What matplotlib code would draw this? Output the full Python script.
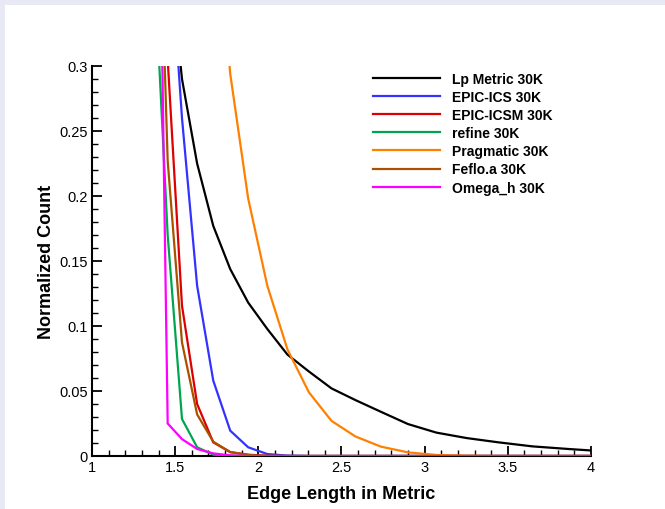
import matplotlib
matplotlib.use("Agg")
import matplotlib.pyplot as plt
from matplotlib.patches import Rectangle
from matplotlib.ticker import MultipleLocator, FormatStrFormatter

plt.rcParams['font.family'] = ['Liberation Sans', 'DejaVu Sans']

# bin centres (edge length in metric)
edge_len = [1.374, 1.455, 1.541, 1.632, 1.729, 1.831, 1.939, 2.054, 2.175, 2.304,
            2.440, 2.584, 2.737, 2.899, 3.070, 3.252, 3.444, 3.648, 3.863, 4.090]

lp_metric = [0.52, 0.40, 0.29, 0.225, 0.177, 0.1438, 0.118, 0.0977, 0.078, 0.065,
             0.052, 0.043, 0.034, 0.0246, 0.018, 0.0138, 0.0105, 0.0074, 0.0054, 0.0035]
epic_ics = [0.60, 0.42, 0.26, 0.131, 0.058, 0.0195, 0.0067, 0.0015, 0.0003, 0,
            0, 0, 0, 0, 0, 0, 0, 0, 0, 0]
epic_icsm = [0.75, 0.305, 0.1156, 0.040, 0.0105, 0.003, 0.001, 0.0002, 0, 0,
             0, 0, 0, 0, 0, 0, 0, 0, 0, 0]
refine = [0.38, 0.17, 0.0285, 0.0067, 0.001, 0.0002, 0, 0, 0, 0,
          0, 0, 0, 0, 0, 0, 0, 0, 0, 0]
pragmatic = [0.9, 0.7, 0.6, 0.5, 0.45, 0.294, 0.198, 0.131, 0.082, 0.049,
             0.027, 0.015, 0.0072, 0.0028, 0.0008, 0.0002, 0, 0, 0, 0]
feflo = [0.56, 0.227, 0.0874, 0.032, 0.011, 0.003, 0.0008, 0, 0, 0,
         0, 0, 0, 0, 0, 0, 0, 0, 0, 0]
omega_h = [0.72, 0.025, 0.013, 0.0054, 0.002, 0.0005, 0, 0, 0, 0,
           0, 0, 0, 0, 0, 0, 0, 0, 0, 0]

series = [
    ("Lp Metric 30K", lp_metric, "#000000"),
    ("EPIC-ICS 30K", epic_ics, "#3333ff"),
    ("EPIC-ICSM 30K", epic_icsm, "#dd0000"),
    ("refine 30K", refine, "#00a550"),
    ("Pragmatic 30K", pragmatic, "#ff8000"),
    ("Feflo.a 30K", feflo, "#a85200"),
    ("Omega_h 30K", omega_h, "#ff00ff"),
]

fig = plt.figure(figsize=(6.65, 5.1), dpi=100)
fig.patch.set_facecolor("white")
# lavender frame strips (top and left)
fig.patches.append(Rectangle((0, 1 - 6 / 510), 1, 6 / 510, transform=fig.transFigure,
                             facecolor="#e9e9f5", edgecolor="none", zorder=0))
fig.patches.append(Rectangle((0, 0), 4.5 / 665, 1, transform=fig.transFigure,
                             facecolor="#e9e9f5", edgecolor="none", zorder=0))

ax = fig.add_axes([92 / 665, 53 / 510, 499 / 665, 390 / 510])

for label, vals, color in series:
    ax.plot(edge_len, vals, color=color, lw=1.6, label=label, zorder=3,
            solid_joinstyle="miter")

ax.set_xlim(1, 4)
ax.set_ylim(0, 0.3)
ax.spines['top'].set_visible(False)
ax.spines['right'].set_visible(False)
ax.spines['left'].set_linewidth(1.5)
ax.spines['bottom'].set_linewidth(1.5)

ax.xaxis.set_major_locator(MultipleLocator(0.5))
ax.xaxis.set_minor_locator(MultipleLocator(0.1))
ax.yaxis.set_major_locator(MultipleLocator(0.05))
ax.yaxis.set_minor_locator(MultipleLocator(0.01))
ax.xaxis.set_major_formatter(FormatStrFormatter('%g'))
ax.yaxis.set_major_formatter(FormatStrFormatter('%g'))
ax.tick_params(which='major', direction='in', length=7, width=1.3, labelsize=10.5,
               pad=3, colors='black')
ax.tick_params(which='minor', direction='in', length=4, width=1.0)
ax.tick_params(axis='x', which='both', top=False)
ax.tick_params(axis='y', which='both', right=False)

ax.set_xlabel("Edge Length in Metric", fontsize=13, fontweight='bold', labelpad=8)
ax.set_ylabel("Normalized Count", fontsize=13, fontweight='bold', labelpad=3)

ax.legend(loc='upper left', bbox_to_anchor=(0.552, 1.0), frameon=False,
          prop={'weight': 'bold', 'size': 10}, handlelength=4.8, handletextpad=0.9,
          labelspacing=0.3, borderaxespad=0)

fig.savefig("out.png", dpi=100, facecolor=fig.get_facecolor())
